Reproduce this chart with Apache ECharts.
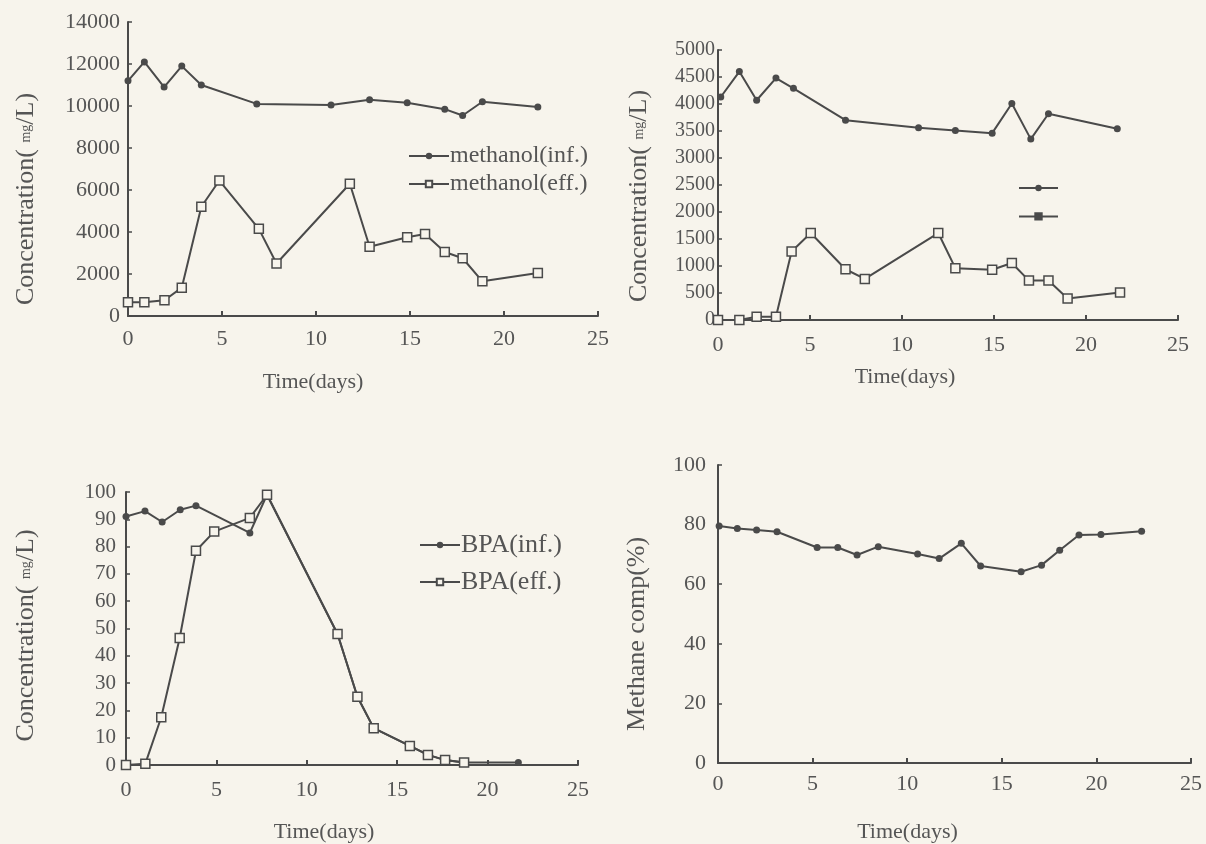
<!DOCTYPE html>
<html>
<head>
<meta charset="utf-8">
<script src="https://cdn.jsdelivr.net/npm/echarts@6/dist/echarts.min.js"></script>
<style>
  html, body { margin: 0; padding: 0; background: #f7f4ec; }
  #chart { width: 1206px; height: 844px; }
</style>
</head>
<body>
<div id="chart"></div>
<script>
// panel 1: methanol
const m1InfDays = [0, 0.87, 1.92, 2.86, 3.9, 6.85, 10.8, 12.85, 14.85, 16.85, 17.8, 18.85, 21.8];
const m1InfVals = [11200, 12100, 10900, 11900, 11000, 10100, 10050, 10300, 10150, 9850, 9550, 10200, 9950];
const m1EffDays = [0, 0.87, 1.94, 2.86, 3.9, 4.86, 6.96, 7.9, 11.8, 12.85, 14.85, 15.8, 16.85, 17.8, 18.85, 21.8];
const m1EffVals = [650, 650, 750, 1350, 5200, 6450, 4150, 2500, 6300, 3300, 3750, 3900, 3050, 2750, 1650, 2050];

// panel 2: second concentration pair (legend without text)
const m2InfDays = [0.15, 1.16, 2.1, 3.15, 4.1, 6.93, 10.9, 12.9, 14.9, 15.97, 17.0, 17.96, 21.7];
const m2InfVals = [4130, 4600, 4070, 4480, 4290, 3700, 3560, 3510, 3460, 4010, 3350, 3820, 3540];
const m2EffDays = [0, 1.16, 2.1, 3.15, 4.0, 5.04, 6.93, 7.98, 11.97, 12.9, 14.9, 15.97, 16.9, 17.96, 19.0, 21.85];
const m2EffVals = [0, 0, 60, 60, 1270, 1610, 940, 760, 1610, 960, 930, 1055, 730, 730, 400, 510];

// panel 3: BPA
const bpaInfDays = [0, 1.05, 2, 3, 3.87, 6.85, 7.8, 11.7, 12.8, 13.7, 15.7, 16.7, 17.65, 18.7, 21.7];
const bpaInfVals = [91, 93, 89, 93.5, 95, 85, 99, 48, 25, 13.5, 7, 3.7, 1.8, 0.9, 0.9];
const bpaEffDays = [0, 1.07, 1.95, 2.97, 3.87, 4.88, 6.85, 7.8, 11.7, 12.8, 13.7, 15.7, 16.7, 17.65, 18.7];
const bpaEffVals = [0, 0.5, 17.5, 46.5, 78.5, 85.5, 90.5, 99, 48, 25, 13.5, 7, 3.7, 1.8, 0.9];

// panel 4: methane composition
const ch4Days = [0.06, 1.02, 2.04, 3.12, 5.24, 6.33, 7.35, 8.47, 10.55, 11.69, 12.86, 13.88, 16.02, 17.1, 18.06, 19.08, 20.24, 22.39];
const ch4Vals = [79.5, 78.7, 78.2, 77.6, 72.3, 72.3, 69.8, 72.6, 70.1, 68.6, 73.7, 66.1, 64.2, 66.4, 71.4, 76.5, 76.7, 77.8];

const ink = '#4a4a4a';
const textInk = '#555555';
const paper = '#f7f4ec';
const font = 'Liberation Serif';

const zip = (xs, ys) => xs.map((x, i) => [x, ys[i]]);

const grids = [
  { left: 128, top: 22, width: 470, height: 294 },
  { left: 718, top: 50, width: 460, height: 270 },
  { left: 126, top: 492, width: 452, height: 273 },
  { left: 718, top: 465, width: 473, height: 298 }
];

const makeX = (idx, labelMargin, nameGap, shift) => ({
  type: 'value',
  gridIndex: idx,
  min: 0,
  max: 25,
  interval: 5,
  name: 'Time(days)',
  nameLocation: 'middle',
  nameGap: nameGap,
  nameTextStyle: { color: textInk, fontFamily: font, fontSize: 22, padding: [0, shift, 0, 0] },
  axisLine: { lineStyle: { color: ink, width: 2 } },
  axisTick: { inside: true, length: 5, lineStyle: { color: ink, width: 2 } },
  axisLabel: { color: textInk, fontFamily: font, fontSize: 22, margin: labelMargin },
  splitLine: { show: false }
});

const makeY = (idx, max, interval, name, labelMargin, nameGap, shift, labelSize) => ({
  type: 'value',
  gridIndex: idx,
  min: 0,
  max: max,
  interval: interval,
  name: name,
  nameLocation: 'middle',
  nameGap: nameGap,
  nameTextStyle: {
    color: textInk, fontFamily: font, fontSize: 26, padding: [0, shift, 0, 0],
    rich: {
      a: { color: textInk, fontFamily: font, fontSize: 26 },
      b: { color: textInk, fontFamily: font, fontSize: 14 }
    }
  },
  axisLine: { show: true, lineStyle: { color: ink, width: 2 } },
  axisTick: { show: true, inside: true, length: 4, lineStyle: { color: ink, width: 1.5 } },
  axisLabel: {
    color: textInk, fontFamily: font, fontSize: labelSize, margin: labelMargin,
    formatter: (v) => String(v)
  },
  splitLine: { show: false }
});

const concName = '{a|Concentration( }{b|mg}{a|/L)}';

const dotSeries = (name, idx, data) => ({
  name: name,
  type: 'line',
  xAxisIndex: idx,
  yAxisIndex: idx,
  data: data,
  symbol: 'circle',
  symbolSize: 7,
  itemStyle: { color: ink },
  lineStyle: { color: ink, width: 2 },
  animation: false
});

const boxSeries = (name, idx, data) => ({
  name: name,
  type: 'line',
  xAxisIndex: idx,
  yAxisIndex: idx,
  data: data,
  symbol: 'rect',
  symbolSize: 9,
  itemStyle: { color: paper, borderColor: ink, borderWidth: 1.5 },
  lineStyle: { color: ink, width: 2 },
  animation: false
});

const option = {
  backgroundColor: paper,
  grid: grids,
  xAxis: [makeX(0, 12, 55, 100), makeX(1, 14, 46, 86), makeX(2, 14, 56, 56), makeX(3, 10, 58, 94)],
  yAxis: [
    makeY(0, 14000, 2000, concName, 8, 89, 60, 22),
    makeY(1, 5000, 500, concName, 3, 66, 22, 20),
    makeY(2, 100, 10, concName, 10, 87, 14, 21),
    makeY(3, 100, 20, 'Methane comp(%)', 12, 68, 40, 22)
  ],
  legend: [
    {
      data: ['methanol(inf.)', 'methanol(eff.)'],
      orient: 'vertical', left: 408, top: 144, itemGap: 4, padding: 0,
      itemWidth: 40, itemHeight: 8,
      textStyle: { color: textInk, fontFamily: font, fontSize: 24, padding: [0, 0, 0, -4] }
    },
    {
      data: [
        { name: 'inf2' },
        { name: 'eff2', itemStyle: { color: ink, borderColor: ink } }
      ],
      orient: 'vertical', left: 1018, top: 184, itemGap: 21, padding: 0,
      itemWidth: 39, itemHeight: 8, formatter: () => '',
      textStyle: { fontFamily: font, fontSize: 8 }
    },
    {
      data: ['BPA(inf.)', 'BPA(eff.)'],
      orient: 'vertical', left: 419, top: 532, itemGap: 11, padding: 0,
      itemWidth: 40, itemHeight: 8,
      textStyle: { color: textInk, fontFamily: font, fontSize: 26, padding: [0, 0, 0, -4] }
    }
  ],
  series: [
    dotSeries('methanol(inf.)', 0, zip(m1InfDays, m1InfVals)),
    boxSeries('methanol(eff.)', 0, zip(m1EffDays, m1EffVals)),
    dotSeries('inf2', 1, zip(m2InfDays, m2InfVals)),
    boxSeries('eff2', 1, zip(m2EffDays, m2EffVals)),
    dotSeries('BPA(inf.)', 2, zip(bpaInfDays, bpaInfVals)),
    boxSeries('BPA(eff.)', 2, zip(bpaEffDays, bpaEffVals)),
    dotSeries('Methane comp', 3, zip(ch4Days, ch4Vals))
  ]
};

window.addEventListener('load', () => {
  const chart = echarts.init(document.getElementById('chart'));
  chart.setOption(option);
});
</script>
</body>
</html>
